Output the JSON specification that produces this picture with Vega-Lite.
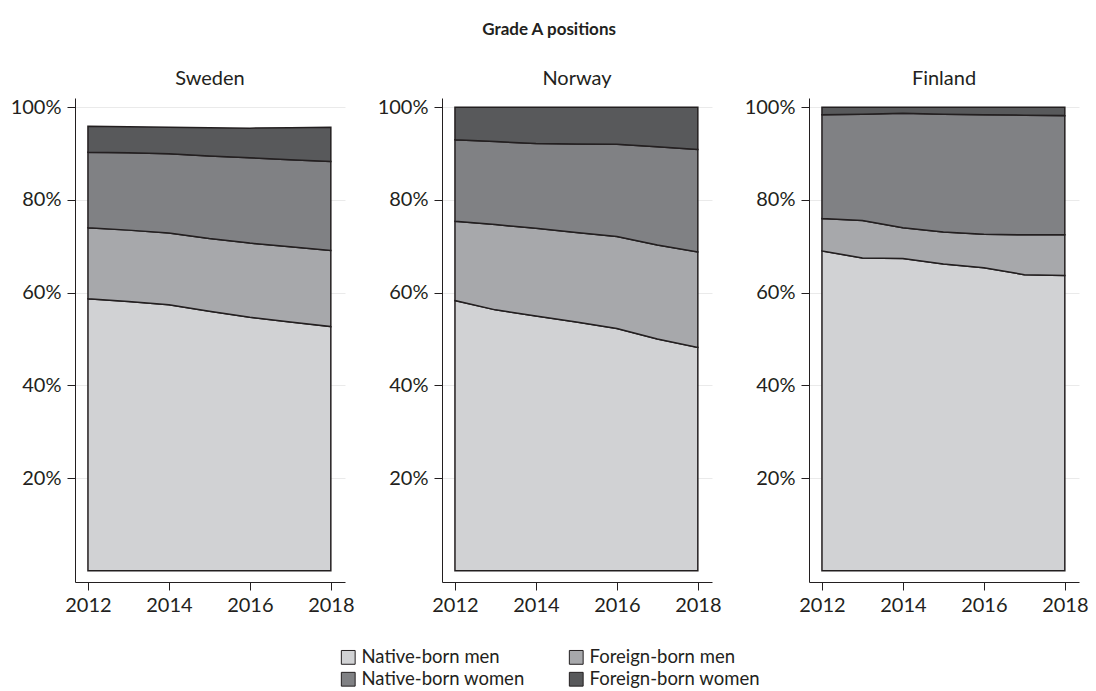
{
  "$schema": "https://vega.github.io/schema/vega-lite/v6.json",
  "background": "white",
  "padding": {"left": 10, "top": 21, "right": 5, "bottom": 5},
  "title": {"text": "Grade A positions", "font": "Lato", "fontSize": 17, "fontWeight": "bold", "color": "#231f20", "anchor": "middle", "offset": 30},
  "data": {"values": [
    {"country": "Sweden", "year": 2012, "group": "Native-born men", "order": 1, "pct": 58.7},
    {"country": "Sweden", "year": 2013, "group": "Native-born men", "order": 1, "pct": 58.1},
    {"country": "Sweden", "year": 2014, "group": "Native-born men", "order": 1, "pct": 57.4},
    {"country": "Sweden", "year": 2015, "group": "Native-born men", "order": 1, "pct": 56.0},
    {"country": "Sweden", "year": 2016, "group": "Native-born men", "order": 1, "pct": 54.7},
    {"country": "Sweden", "year": 2017, "group": "Native-born men", "order": 1, "pct": 53.7},
    {"country": "Sweden", "year": 2018, "group": "Native-born men", "order": 1, "pct": 52.7},
    {"country": "Sweden", "year": 2012, "group": "Foreign-born men", "order": 2, "pct": 15.3},
    {"country": "Sweden", "year": 2013, "group": "Foreign-born men", "order": 2, "pct": 15.4},
    {"country": "Sweden", "year": 2014, "group": "Foreign-born men", "order": 2, "pct": 15.5},
    {"country": "Sweden", "year": 2015, "group": "Foreign-born men", "order": 2, "pct": 15.7},
    {"country": "Sweden", "year": 2016, "group": "Foreign-born men", "order": 2, "pct": 16.0},
    {"country": "Sweden", "year": 2017, "group": "Foreign-born men", "order": 2, "pct": 16.2},
    {"country": "Sweden", "year": 2018, "group": "Foreign-born men", "order": 2, "pct": 16.4},
    {"country": "Sweden", "year": 2012, "group": "Native-born women", "order": 3, "pct": 16.3},
    {"country": "Sweden", "year": 2013, "group": "Native-born women", "order": 3, "pct": 16.7},
    {"country": "Sweden", "year": 2014, "group": "Native-born women", "order": 3, "pct": 17.1},
    {"country": "Sweden", "year": 2015, "group": "Native-born women", "order": 3, "pct": 17.8},
    {"country": "Sweden", "year": 2016, "group": "Native-born women", "order": 3, "pct": 18.4},
    {"country": "Sweden", "year": 2017, "group": "Native-born women", "order": 3, "pct": 18.8},
    {"country": "Sweden", "year": 2018, "group": "Native-born women", "order": 3, "pct": 19.2},
    {"country": "Sweden", "year": 2012, "group": "Foreign-born women", "order": 4, "pct": 5.6},
    {"country": "Sweden", "year": 2013, "group": "Foreign-born women", "order": 4, "pct": 5.6},
    {"country": "Sweden", "year": 2014, "group": "Foreign-born women", "order": 4, "pct": 5.7},
    {"country": "Sweden", "year": 2015, "group": "Foreign-born women", "order": 4, "pct": 6.1},
    {"country": "Sweden", "year": 2016, "group": "Foreign-born women", "order": 4, "pct": 6.4},
    {"country": "Sweden", "year": 2017, "group": "Foreign-born women", "order": 4, "pct": 6.9},
    {"country": "Sweden", "year": 2018, "group": "Foreign-born women", "order": 4, "pct": 7.4},

    {"country": "Norway", "year": 2012, "group": "Native-born men", "order": 1, "pct": 58.3},
    {"country": "Norway", "year": 2013, "group": "Native-born men", "order": 1, "pct": 56.3},
    {"country": "Norway", "year": 2014, "group": "Native-born men", "order": 1, "pct": 55.0},
    {"country": "Norway", "year": 2015, "group": "Native-born men", "order": 1, "pct": 53.7},
    {"country": "Norway", "year": 2016, "group": "Native-born men", "order": 1, "pct": 52.3},
    {"country": "Norway", "year": 2017, "group": "Native-born men", "order": 1, "pct": 50.0},
    {"country": "Norway", "year": 2018, "group": "Native-born men", "order": 1, "pct": 48.2},
    {"country": "Norway", "year": 2012, "group": "Foreign-born men", "order": 2, "pct": 17.1},
    {"country": "Norway", "year": 2013, "group": "Foreign-born men", "order": 2, "pct": 18.4},
    {"country": "Norway", "year": 2014, "group": "Foreign-born men", "order": 2, "pct": 18.9},
    {"country": "Norway", "year": 2015, "group": "Foreign-born men", "order": 2, "pct": 19.3},
    {"country": "Norway", "year": 2016, "group": "Foreign-born men", "order": 2, "pct": 19.8},
    {"country": "Norway", "year": 2017, "group": "Foreign-born men", "order": 2, "pct": 20.3},
    {"country": "Norway", "year": 2018, "group": "Foreign-born men", "order": 2, "pct": 20.6},
    {"country": "Norway", "year": 2012, "group": "Native-born women", "order": 3, "pct": 17.6},
    {"country": "Norway", "year": 2013, "group": "Native-born women", "order": 3, "pct": 17.9},
    {"country": "Norway", "year": 2014, "group": "Native-born women", "order": 3, "pct": 18.3},
    {"country": "Norway", "year": 2015, "group": "Native-born women", "order": 3, "pct": 19.1},
    {"country": "Norway", "year": 2016, "group": "Native-born women", "order": 3, "pct": 19.9},
    {"country": "Norway", "year": 2017, "group": "Native-born women", "order": 3, "pct": 21.2},
    {"country": "Norway", "year": 2018, "group": "Native-born women", "order": 3, "pct": 22.1},
    {"country": "Norway", "year": 2012, "group": "Foreign-born women", "order": 4, "pct": 7.0},
    {"country": "Norway", "year": 2013, "group": "Foreign-born women", "order": 4, "pct": 7.4},
    {"country": "Norway", "year": 2014, "group": "Foreign-born women", "order": 4, "pct": 7.8},
    {"country": "Norway", "year": 2015, "group": "Foreign-born women", "order": 4, "pct": 7.9},
    {"country": "Norway", "year": 2016, "group": "Foreign-born women", "order": 4, "pct": 8.0},
    {"country": "Norway", "year": 2017, "group": "Foreign-born women", "order": 4, "pct": 8.5},
    {"country": "Norway", "year": 2018, "group": "Foreign-born women", "order": 4, "pct": 9.1},

    {"country": "Finland", "year": 2012, "group": "Native-born men", "order": 1, "pct": 69.0},
    {"country": "Finland", "year": 2013, "group": "Native-born men", "order": 1, "pct": 67.5},
    {"country": "Finland", "year": 2014, "group": "Native-born men", "order": 1, "pct": 67.4},
    {"country": "Finland", "year": 2015, "group": "Native-born men", "order": 1, "pct": 66.2},
    {"country": "Finland", "year": 2016, "group": "Native-born men", "order": 1, "pct": 65.4},
    {"country": "Finland", "year": 2017, "group": "Native-born men", "order": 1, "pct": 63.9},
    {"country": "Finland", "year": 2018, "group": "Native-born men", "order": 1, "pct": 63.7},
    {"country": "Finland", "year": 2012, "group": "Foreign-born men", "order": 2, "pct": 7.0},
    {"country": "Finland", "year": 2013, "group": "Foreign-born men", "order": 2, "pct": 8.1},
    {"country": "Finland", "year": 2014, "group": "Foreign-born men", "order": 2, "pct": 6.6},
    {"country": "Finland", "year": 2015, "group": "Foreign-born men", "order": 2, "pct": 6.9},
    {"country": "Finland", "year": 2016, "group": "Foreign-born men", "order": 2, "pct": 7.2},
    {"country": "Finland", "year": 2017, "group": "Foreign-born men", "order": 2, "pct": 8.6},
    {"country": "Finland", "year": 2018, "group": "Foreign-born men", "order": 2, "pct": 8.8},
    {"country": "Finland", "year": 2012, "group": "Native-born women", "order": 3, "pct": 22.4},
    {"country": "Finland", "year": 2013, "group": "Native-born women", "order": 3, "pct": 22.9},
    {"country": "Finland", "year": 2014, "group": "Native-born women", "order": 3, "pct": 24.7},
    {"country": "Finland", "year": 2015, "group": "Native-born women", "order": 3, "pct": 25.4},
    {"country": "Finland", "year": 2016, "group": "Native-born women", "order": 3, "pct": 25.8},
    {"country": "Finland", "year": 2017, "group": "Native-born women", "order": 3, "pct": 25.8},
    {"country": "Finland", "year": 2018, "group": "Native-born women", "order": 3, "pct": 25.7},
    {"country": "Finland", "year": 2012, "group": "Foreign-born women", "order": 4, "pct": 1.6},
    {"country": "Finland", "year": 2013, "group": "Foreign-born women", "order": 4, "pct": 1.5},
    {"country": "Finland", "year": 2014, "group": "Foreign-born women", "order": 4, "pct": 1.3},
    {"country": "Finland", "year": 2015, "group": "Foreign-born women", "order": 4, "pct": 1.5},
    {"country": "Finland", "year": 2016, "group": "Foreign-born women", "order": 4, "pct": 1.6},
    {"country": "Finland", "year": 2017, "group": "Foreign-born women", "order": 4, "pct": 1.7},
    {"country": "Finland", "year": 2018, "group": "Foreign-born women", "order": 4, "pct": 1.8}
  ]},
  "spacing": 22,
  "hconcat": [
    {
      "title": "Sweden",
      "transform": [{"filter": "datum.country === 'Sweden'"}],
      "width": 270, "height": 484,
      "mark": {"type": "area", "stroke": "#231f20", "strokeWidth": 1.5, "strokeJoin": "miter"},
      "encoding": {
        "x": {"field": "year", "type": "quantitative", "scale": {"domain": [2011.68, 2018.35], "nice": false, "zero": false}, "axis": {"values": [2012, 2014, 2016, 2018], "format": "d", "grid": false, "title": null}},
        "y": {"field": "pct", "type": "quantitative", "stack": "zero", "scale": {"domain": [-2.4, 102], "nice": false}, "axis": {"values": [20, 40, 60, 80, 100], "labelExpr": "datum.value + '%'", "grid": true, "title": null}},
        "color": {"field": "group", "type": "nominal", "scale": {"domain": ["Native-born men", "Foreign-born men", "Native-born women", "Foreign-born women"], "range": ["#d1d2d4", "#a7a8ab", "#808184", "#58595b"]}, "legend": {"title": null, "orient": "bottom", "columns": 2, "symbolType": "square", "symbolSize": 190, "columnPadding": 42, "rowPadding": 3, "offset": 33, "labelLimit": 400}},
        "order": {"field": "order", "type": "quantitative"}
      }
    },
    {
      "title": "Norway",
      "transform": [{"filter": "datum.country === 'Norway'"}],
      "width": 270, "height": 484,
      "mark": {"type": "area", "stroke": "#231f20", "strokeWidth": 1.5, "strokeJoin": "miter"},
      "encoding": {
        "x": {"field": "year", "type": "quantitative", "scale": {"domain": [2011.68, 2018.35], "nice": false, "zero": false}, "axis": {"values": [2012, 2014, 2016, 2018], "format": "d", "grid": false, "title": null}},
        "y": {"field": "pct", "type": "quantitative", "stack": "zero", "scale": {"domain": [-2.4, 102], "nice": false}, "axis": {"values": [20, 40, 60, 80, 100], "labelExpr": "datum.value + '%'", "grid": true, "title": null}},
        "color": {"field": "group", "type": "nominal", "scale": {"domain": ["Native-born men", "Foreign-born men", "Native-born women", "Foreign-born women"], "range": ["#d1d2d4", "#a7a8ab", "#808184", "#58595b"]}, "legend": {"title": null, "orient": "bottom", "columns": 2, "symbolType": "square", "symbolSize": 190, "columnPadding": 42, "rowPadding": 3, "offset": 33, "labelLimit": 400}},
        "order": {"field": "order", "type": "quantitative"}
      }
    },
    {
      "title": "Finland",
      "transform": [{"filter": "datum.country === 'Finland'"}],
      "width": 270, "height": 484,
      "mark": {"type": "area", "stroke": "#231f20", "strokeWidth": 1.5, "strokeJoin": "miter"},
      "encoding": {
        "x": {"field": "year", "type": "quantitative", "scale": {"domain": [2011.68, 2018.35], "nice": false, "zero": false}, "axis": {"values": [2012, 2014, 2016, 2018], "format": "d", "grid": false, "title": null}},
        "y": {"field": "pct", "type": "quantitative", "stack": "zero", "scale": {"domain": [-2.4, 102], "nice": false}, "axis": {"values": [20, 40, 60, 80, 100], "labelExpr": "datum.value + '%'", "grid": true, "title": null}},
        "color": {"field": "group", "type": "nominal", "scale": {"domain": ["Native-born men", "Foreign-born men", "Native-born women", "Foreign-born women"], "range": ["#d1d2d4", "#a7a8ab", "#808184", "#58595b"]}, "legend": {"title": null, "orient": "bottom", "columns": 2, "symbolType": "square", "symbolSize": 190, "columnPadding": 42, "rowPadding": 3, "offset": 33, "labelLimit": 400}},
        "order": {"field": "order", "type": "quantitative"}
      }
    }
  ],
  "resolve": {"scale": {"color": "shared"}, "legend": {"color": "shared"}},
  "config": {
    "font": "Lato",
    "view": {"stroke": null},
    "title": {"font": "Lato", "fontSize": 20, "fontWeight": "normal", "color": "#231f20", "offset": 8},
    "axis": {
      "labelFont": "Lato", "labelFontSize": 20, "labelColor": "#231f20",
      "domainColor": "#231f20", "domainWidth": 1, "tickColor": "#231f20", "tickSize": 8, "tickWidth": 1,
      "labelPadding": 6, "gridColor": "#eaeaea", "gridWidth": 1
    },
    "axisX": {"labelPadding": 5},
    "legend": {
      "labelFont": "Lato", "labelFontSize": 18.5, "labelColor": "#231f20", "labelLimit": 400,
      "symbolStrokeColor": "#231f20", "symbolStrokeWidth": 1,
      "layout": {"bottom": {"anchor": "middle"}}
    }
  }
}
